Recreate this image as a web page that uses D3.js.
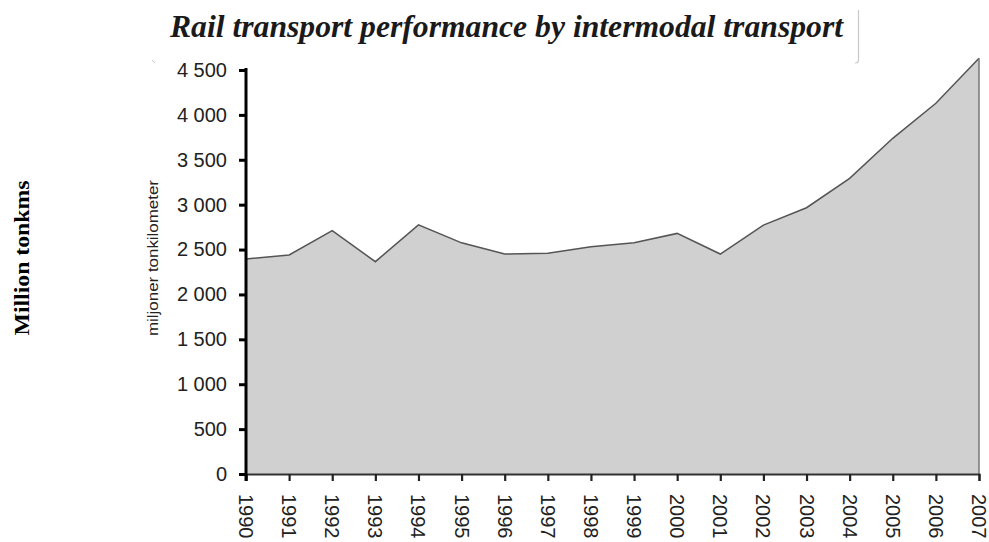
<!DOCTYPE html>
<html>
<head>
<meta charset="utf-8">
<script src="https://cdn.jsdelivr.net/npm/d3@7"></script>
<style>
  html, body { margin: 0; padding: 0; background: #fff; }
  svg { display: block; }
</style>
</head>
<body>
<svg id="chart" width="989" height="542"></svg>
<script>
const years = [1990,1991,1992,1993,1994,1995,1996,1997,1998,1999,2000,2001,2002,2003,2004,2005,2006,2007];
const values = [2395,2440,2710,2365,2775,2575,2450,2458,2530,2577,2680,2450,2773,2966,3293,3739,4129,4630];
const yTicks = [0,500,1000,1500,2000,2500,3000,3500,4000,4500];
const titleText = "Rail transport performance by intermodal transport";
const yAxisLabel = "miljoner tonkilometer";
const outerLabel = "Million tonkms";

const svg = d3.select("#chart");
const x = d3.scaleLinear().domain([1990, 2007]).range([246, 979]);
const y = d3.scaleLinear().domain([0, 4500]).range([474, 70]);

// title
svg.append("text")
  .attr("x", 170).attr("y", 37)
  .attr("textLength", 673).attr("lengthAdjust", "spacingAndGlyphs")
  .style("font-family", "'Liberation Serif', 'Times New Roman', serif")
  .style("font-weight", "bold").style("font-style", "italic")
  .style("font-size", "31px").attr("fill", "#1a1a1a")
  .text(titleText);

// faint title frame remnants
svg.append("path")
  .attr("d", "M858.5,10 L858.5,60 Q858.5,63 855,63")
  .attr("fill", "none").attr("stroke", "#c8c8c8").attr("stroke-width", 1.2);
svg.append("path")
  .attr("d", "M152,60 L155,63")
  .attr("fill", "none").attr("stroke", "#c8c8c8").attr("stroke-width", 1);

// area
const data = years.map((yr, i) => ({yr, v: values[i]}));
const area = d3.area().x(d => x(d.yr)).y0(y(0)).y1(d => y(d.v));
const line = d3.line().x(d => x(d.yr)).y(d => y(d.v));
svg.append("path").datum(data).attr("d", area).attr("fill", "#d0d0d0");
svg.append("path").datum(data).attr("d", line)
  .attr("fill", "none").attr("stroke", "#555").attr("stroke-width", 1.5);
// right edge
svg.append("line")
  .attr("x1", x(2007)).attr("x2", x(2007))
  .attr("y1", y(values[values.length - 1])).attr("y2", y(0))
  .attr("stroke", "#777").attr("stroke-width", 1.5);

// x axis
const xAxis = d3.axisBottom(x).tickValues(years).tickSize(7).tickFormat("");
const gx = svg.append("g").attr("transform", `translate(0,${y(0)})`).call(xAxis);
gx.select(".domain").attr("stroke", "#333").attr("stroke-width", 2);
gx.selectAll(".tick line").attr("stroke", "#222").attr("stroke-width", 2.2);

svg.append("g").selectAll("text").data(years).join("text")
  .attr("transform", d => `translate(${x(d)},494) rotate(90)`)
  .attr("dy", "0.35em")
  .attr("text-anchor", "start")
  .style("font-family", "'Liberation Sans', Arial, sans-serif")
  .style("font-size", "20px").attr("fill", "#222")
  .text(d => d);

// y axis
const fmt = v => v >= 1000 ? Math.floor(v / 1000) + " " + String(v % 1000).padStart(3, "0") : String(v);
const yAxis = d3.axisLeft(y).tickValues(yTicks).tickSize(7).tickPadding(12).tickFormat(fmt);
const gy = svg.append("g").attr("transform", `translate(${x(1990)},0)`).call(yAxis);
gy.select(".domain").attr("stroke", "#000").attr("stroke-width", 3)
  .attr("d", `M0,${y(4500) - 2}V${y(0) + 7}`);
gy.selectAll(".tick line").attr("stroke", "#000").attr("stroke-width", 3);
gy.selectAll(".tick text")
  .style("font-family", "'Liberation Sans', Arial, sans-serif")
  .style("font-size", "20px").attr("fill", "#222");

// y axis inner label
svg.append("text")
  .attr("transform", "translate(158,258) rotate(-90)")
  .attr("text-anchor", "middle")
  .attr("textLength", 156).attr("lengthAdjust", "spacingAndGlyphs")
  .style("font-family", "'Liberation Sans', Arial, sans-serif")
  .style("font-size", "14px").attr("fill", "#222")
  .text(yAxisLabel);

// outer label
svg.append("text")
  .attr("transform", "translate(29,258) rotate(-90)")
  .attr("text-anchor", "middle")
  .attr("textLength", 155).attr("lengthAdjust", "spacingAndGlyphs")
  .style("font-family", "'Liberation Serif', 'Times New Roman', serif")
  .style("font-weight", "bold")
  .style("font-size", "21px").attr("fill", "#000")
  .text(outerLabel);
</script>
</body>
</html>
